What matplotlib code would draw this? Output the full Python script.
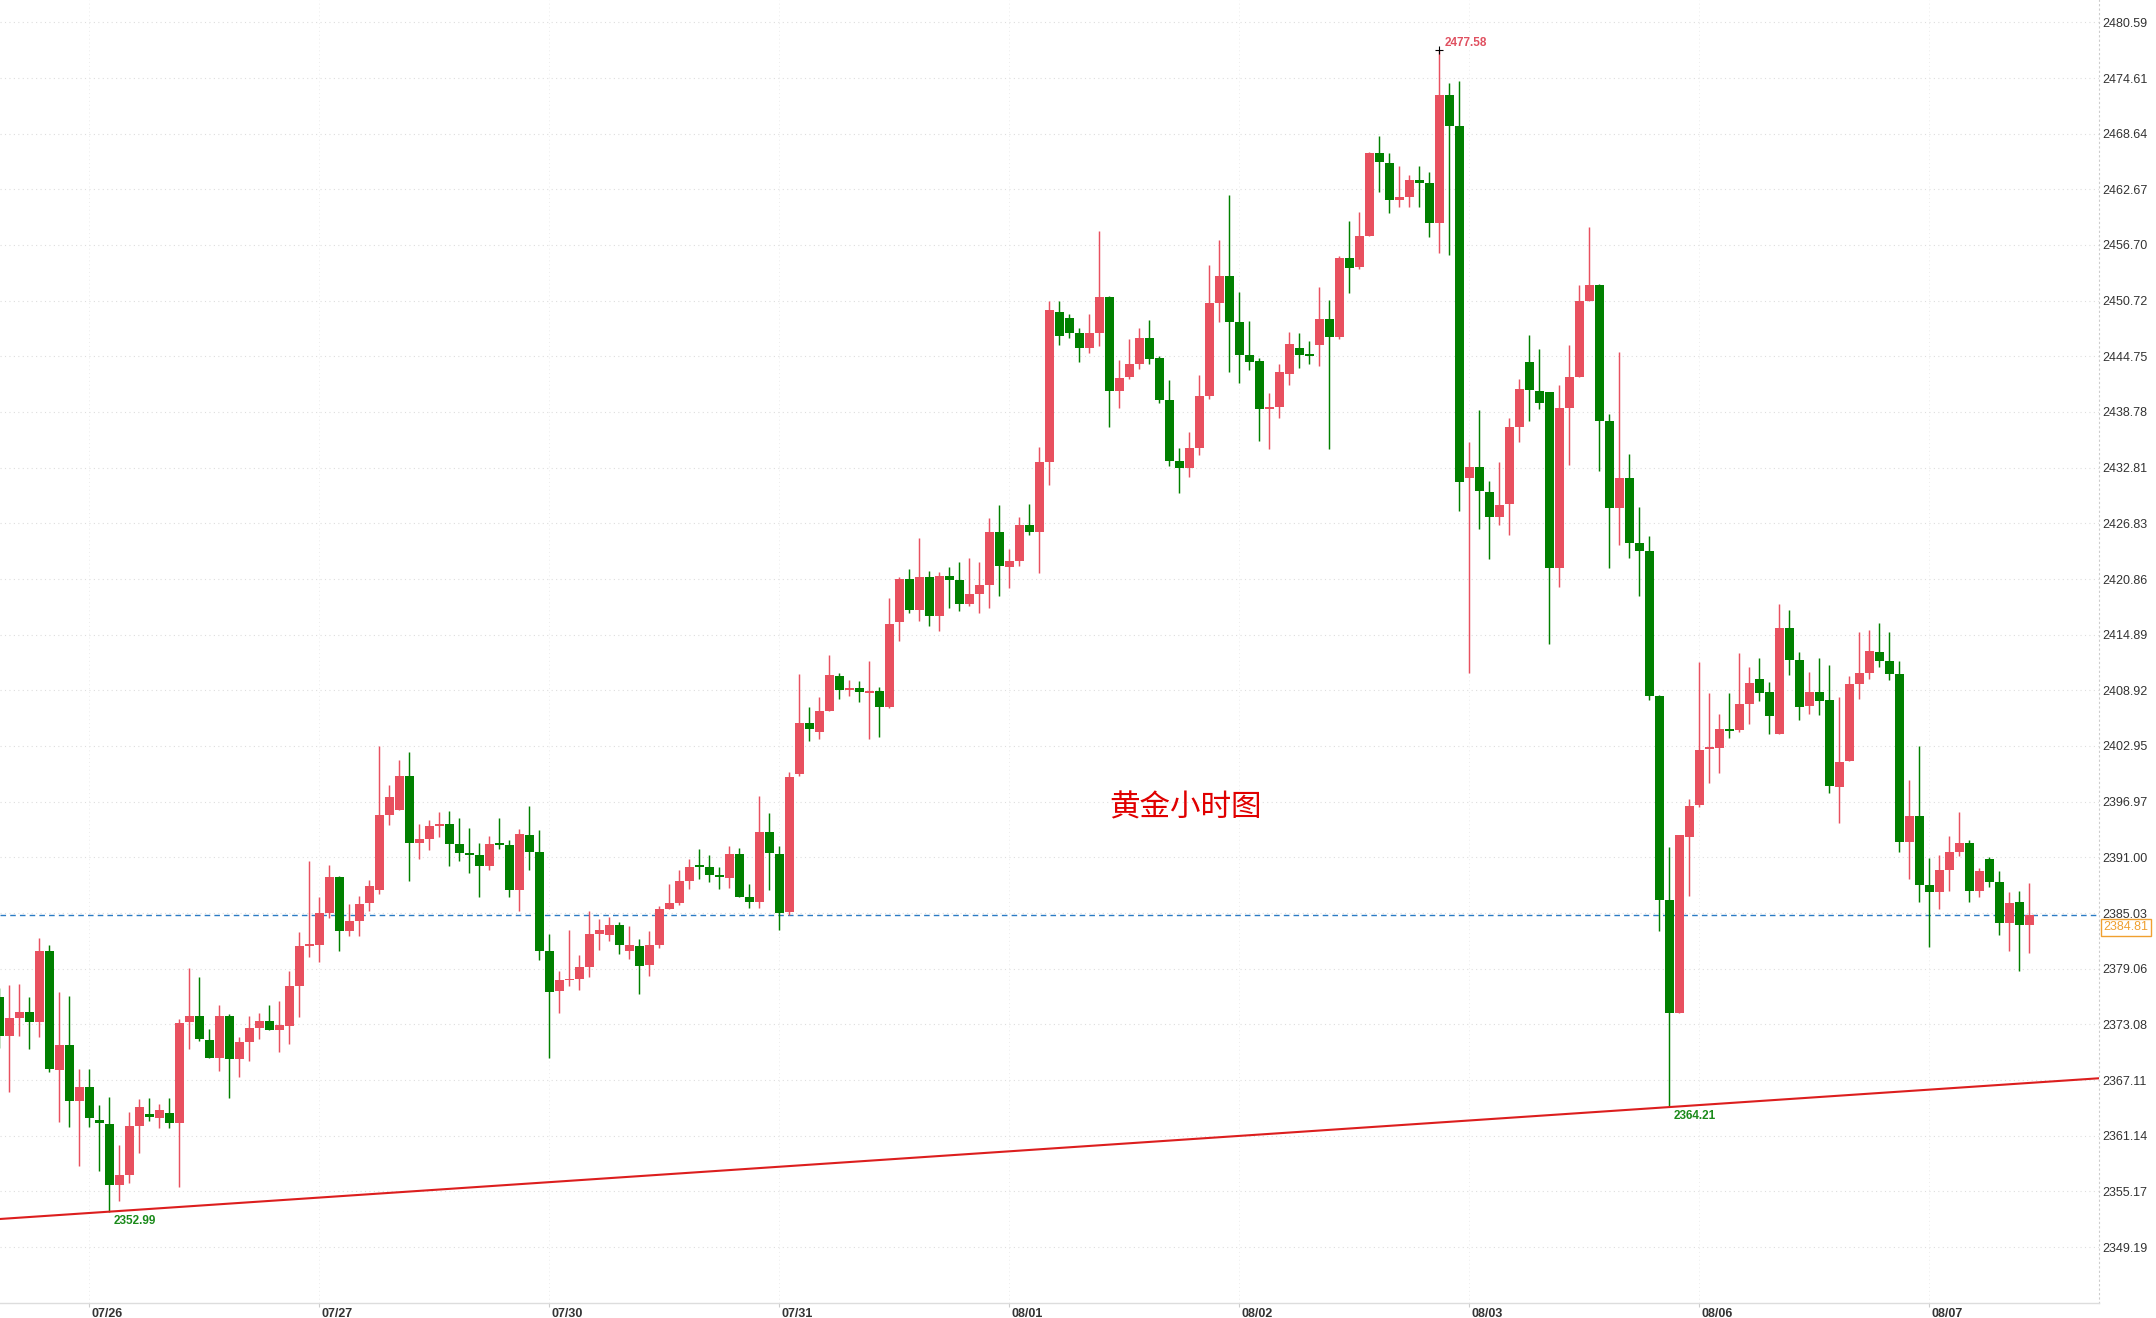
import numpy as np
import matplotlib
matplotlib.use("Agg")
import matplotlib.pyplot as plt
from matplotlib.transforms import ScaledTranslation, blended_transform_factory

plt.rcParams['font.family'] = ['Liberation Sans', 'Noto Sans CJK SC', 'DejaVu Sans']

# ---------------- data (hourly candles, index -1 .. 202) ----------------
opens = [2375.98, 2371.87, 2373.80, 2374.37, 2373.37, 2380.95, 2368.18, 2370.86, 2364.89, 2366.39,
         2362.82, 2362.39, 2355.88, 2356.92, 2362.17, 2363.46, 2363.07, 2363.53, 2362.46, 2373.37,
         2373.94, 2371.40, 2369.51, 2373.94, 2369.40, 2371.19, 2372.69, 2373.44, 2372.51, 2372.94,
         2377.20, 2381.52, 2381.63, 2385.03, 2388.93, 2383.13, 2384.17, 2386.10, 2387.53, 2395.54,
         2396.08, 2399.73, 2392.57, 2392.97, 2394.36, 2394.58, 2392.43, 2391.43, 2391.25, 2390.07,
         2392.54, 2392.32, 2387.53, 2393.40, 2391.57, 2380.95, 2376.69, 2377.84, 2377.98, 2379.23,
         2382.77, 2382.67, 2383.74, 2380.99, 2381.49, 2379.45, 2381.59, 2385.46, 2386.13, 2388.45,
         2390.10, 2389.92, 2389.10, 2388.81, 2391.35, 2386.77, 2386.24, 2393.75, 2391.35, 2385.17,
         2399.94, 2405.41, 2404.48, 2406.73, 2410.45, 2408.98, 2409.16, 2408.66, 2408.84, 2407.16,
         2416.28, 2420.86, 2417.53, 2421.07, 2416.92, 2421.18, 2420.75, 2418.21, 2419.25, 2420.21,
         2425.90, 2422.18, 2422.82, 2426.65, 2425.94, 2433.44, 2449.50, 2448.86, 2447.25, 2445.64,
         2447.25, 2451.11, 2441.03, 2442.53, 2443.92, 2446.71, 2444.57, 2440.06, 2433.51, 2432.76,
         2434.91, 2440.49, 2450.47, 2453.36, 2448.43, 2444.89, 2444.25, 2439.10, 2439.31, 2442.85,
         2445.64, 2444.89, 2445.96, 2448.75, 2446.82, 2455.30, 2454.33, 2457.66, 2466.56, 2465.45,
         2461.49, 2461.80, 2463.71, 2463.31, 2459.04, 2472.74, 2469.49, 2431.68, 2432.88, 2430.21,
         2427.54, 2428.88, 2437.20, 2444.12, 2441.07, 2440.95, 2422.02, 2439.26, 2442.50, 2450.66,
         2452.40, 2437.77, 2428.43, 2431.67, 2424.76, 2423.88, 2408.32, 2386.40, 2374.26, 2393.19,
         2396.61, 2402.58, 2402.76, 2404.73, 2404.66, 2407.45, 2410.13, 2408.74, 2404.23, 2415.60,
         2412.17, 2407.23, 2408.74, 2407.88, 2398.58, 2401.37, 2409.59, 2410.77, 2413.03, 2412.10,
         2410.67, 2392.68, 2395.43, 2388.03, 2387.31, 2389.64, 2391.57, 2392.53, 2387.42, 2390.85,
         2388.35, 2383.99, 2386.20, 2383.77]
highs = [2377.00, 2377.30, 2377.41, 2375.98, 2382.35, 2381.59, 2376.55, 2376.12, 2368.25, 2368.25,
         2364.43, 2365.25, 2360.14, 2363.64, 2365.04, 2365.14, 2364.53, 2365.14, 2373.62, 2379.09,
         2378.12, 2372.55, 2375.12, 2374.19, 2371.76, 2373.94, 2374.30, 2375.12, 2375.59, 2378.80,
         2382.95, 2390.61, 2386.78, 2390.18, 2389.00, 2385.99, 2386.85, 2388.57, 2402.95, 2398.76,
         2401.44, 2402.30, 2394.58, 2395.01, 2395.86, 2395.97, 2395.22, 2394.15, 2392.54, 2393.29,
         2395.22, 2392.86, 2394.04, 2396.51, 2393.93, 2382.77, 2378.80, 2383.20, 2380.52, 2385.24,
         2384.38, 2384.63, 2384.06, 2383.63, 2382.24, 2383.10, 2385.78, 2388.14, 2389.63, 2390.82,
         2391.89, 2391.24, 2389.92, 2392.21, 2391.96, 2388.13, 2397.57, 2395.79, 2392.21, 2400.11,
         2410.66, 2407.09, 2408.20, 2412.70, 2410.81, 2410.02, 2409.91, 2412.06, 2409.27, 2418.82,
         2421.11, 2421.93, 2425.26, 2421.72, 2421.61, 2422.15, 2422.68, 2423.11, 2422.68, 2427.40,
         2428.80, 2424.08, 2427.47, 2428.90, 2434.98, 2450.68, 2450.68, 2449.29, 2447.79, 2449.29,
         2458.19, 2451.22, 2444.35, 2446.61, 2447.79, 2448.64, 2444.78, 2442.21, 2434.91, 2436.63,
         2442.74, 2454.54, 2457.23, 2462.06, 2451.65, 2448.54, 2444.57, 2440.81, 2443.92, 2447.36,
         2447.25, 2446.39, 2452.18, 2450.79, 2455.51, 2459.27, 2460.24, 2466.69, 2468.34, 2466.60,
         2465.22, 2464.16, 2465.22, 2464.56, 2477.58, 2474.12, 2474.25, 2435.55, 2439.02, 2431.42,
         2433.46, 2438.09, 2442.36, 2447.05, 2445.55, 2440.95, 2441.69, 2445.99, 2452.40, 2458.63,
         2452.53, 2438.52, 2445.24, 2434.28, 2428.55, 2425.44, 2408.44, 2392.13, 2393.37, 2397.23,
         2411.93, 2408.59, 2406.38, 2408.59, 2412.88, 2411.38, 2412.35, 2409.77, 2418.18, 2417.53,
         2413.03, 2410.88, 2412.35, 2411.63, 2408.20, 2410.45, 2415.17, 2415.39, 2416.14, 2415.17,
         2412.06, 2399.29, 2402.94, 2390.96, 2391.25, 2393.28, 2395.86, 2392.86, 2389.85, 2391.03,
         2389.53, 2387.28, 2387.38, 2388.24]
lows = [2370.50, 2365.79, 2371.87, 2370.40, 2371.76, 2367.93, 2362.64, 2362.03, 2357.88, 2362.03,
        2357.38, 2352.99, 2354.16, 2356.02, 2359.24, 2362.75, 2361.92, 2361.99, 2355.67, 2370.40,
        2371.29, 2369.51, 2368.11, 2365.14, 2367.47, 2369.18, 2371.51, 2372.51, 2370.15, 2370.94,
        2373.90, 2380.34, 2379.81, 2384.46, 2380.99, 2382.60, 2382.60, 2385.28, 2387.07, 2394.47,
        2396.08, 2388.50, 2390.82, 2391.79, 2393.18, 2390.07, 2390.61, 2389.32, 2386.78, 2389.64,
        2391.90, 2386.78, 2385.28, 2389.64, 2379.98, 2369.51, 2374.33, 2377.20, 2376.77, 2378.16,
        2381.06, 2382.02, 2380.63, 2380.09, 2376.34, 2378.27, 2381.27, 2385.46, 2385.88, 2387.60,
        2388.67, 2388.38, 2387.60, 2387.70, 2386.77, 2385.59, 2385.59, 2387.49, 2383.20, 2384.81,
        2399.72, 2403.51, 2403.69, 2406.73, 2407.98, 2408.30, 2407.66, 2403.73, 2403.94, 2407.05,
        2414.24, 2417.25, 2416.39, 2415.85, 2415.31, 2417.78, 2417.46, 2418.00, 2417.25, 2417.78,
        2419.07, 2419.93, 2422.25, 2425.58, 2421.50, 2430.94, 2445.96, 2446.71, 2444.14, 2445.10,
        2445.85, 2437.16, 2439.20, 2442.31, 2443.39, 2443.92, 2439.74, 2432.98, 2430.08, 2431.80,
        2434.16, 2440.17, 2448.43, 2443.06, 2441.88, 2443.28, 2435.66, 2434.80, 2438.13, 2441.67,
        2443.49, 2443.92, 2443.71, 2434.80, 2446.60, 2451.54, 2454.15, 2457.66, 2462.38, 2460.11,
        2460.82, 2460.82, 2460.82, 2457.53, 2455.79, 2455.66, 2428.21, 2410.73, 2426.21, 2422.96,
        2426.65, 2425.54, 2435.55, 2437.77, 2439.14, 2413.92, 2420.02, 2433.04, 2442.50, 2450.66,
        2432.42, 2422.02, 2424.51, 2423.14, 2419.09, 2407.88, 2383.10, 2364.21, 2374.26, 2386.84,
        2396.36, 2398.94, 2400.08, 2403.76, 2404.48, 2405.30, 2407.81, 2404.23, 2404.23, 2410.56,
        2405.73, 2406.38, 2406.27, 2397.94, 2394.72, 2401.37, 2407.98, 2410.17, 2411.45, 2410.02,
        2391.60, 2388.71, 2386.24, 2381.41, 2385.49, 2387.42, 2391.17, 2386.24, 2386.78, 2387.85,
        2382.70, 2380.98, 2378.84, 2380.77]
closes = [2371.87, 2373.76, 2374.37, 2373.37, 2380.95, 2368.29, 2370.86, 2364.89, 2366.39, 2363.00,
          2362.46, 2355.88, 2356.92, 2362.17, 2364.18, 2363.10, 2363.89, 2362.46, 2373.19, 2373.94,
          2371.47, 2369.51, 2373.94, 2369.33, 2371.19, 2372.69, 2373.44, 2372.51, 2372.98, 2377.20,
          2381.49, 2381.70, 2385.03, 2388.93, 2383.13, 2384.17, 2385.99, 2387.92, 2395.54, 2397.47,
          2399.73, 2392.57, 2392.97, 2394.36, 2394.58, 2392.47, 2391.50, 2391.25, 2390.07, 2392.43,
          2392.32, 2387.53, 2393.50, 2391.57, 2380.95, 2376.55, 2377.84, 2377.98, 2379.23, 2382.77,
          2383.20, 2383.74, 2381.59, 2381.59, 2379.34, 2381.59, 2385.46, 2386.10, 2388.45, 2389.92,
          2389.99, 2389.10, 2388.92, 2391.35, 2386.77, 2386.24, 2393.75, 2391.49, 2385.06, 2399.65,
          2405.41, 2404.73, 2406.73, 2410.56, 2408.98, 2409.16, 2408.73, 2408.88, 2407.16, 2416.03,
          2420.86, 2417.53, 2421.07, 2416.92, 2421.18, 2420.79, 2418.21, 2419.25, 2420.21, 2425.90,
          2422.29, 2422.82, 2426.65, 2425.94, 2433.41, 2449.72, 2446.93, 2447.25, 2445.64, 2447.25,
          2451.11, 2441.03, 2442.42, 2443.92, 2446.71, 2444.46, 2440.06, 2433.51, 2432.76, 2434.91,
          2440.49, 2450.47, 2453.36, 2448.43, 2444.89, 2444.14, 2439.10, 2439.31, 2443.06, 2446.07,
          2444.89, 2444.82, 2448.75, 2446.82, 2455.30, 2454.26, 2457.66, 2466.56, 2465.58, 2461.49,
          2461.80, 2463.71, 2463.36, 2459.04, 2472.74, 2469.49, 2431.24, 2432.88, 2430.30, 2427.54,
          2428.75, 2437.20, 2441.20, 2441.19, 2439.70, 2422.02, 2439.26, 2442.50, 2450.66, 2452.40,
          2437.77, 2428.43, 2431.67, 2424.76, 2423.88, 2408.32, 2386.40, 2374.26, 2393.37, 2396.49,
          2402.53, 2402.87, 2404.77, 2404.59, 2407.45, 2409.67, 2408.66, 2406.20, 2415.60, 2412.17,
          2407.16, 2408.74, 2407.81, 2398.65, 2401.23, 2409.59, 2410.77, 2413.13, 2412.10, 2410.67,
          2392.68, 2395.43, 2388.03, 2387.31, 2389.64, 2391.57, 2392.53, 2387.42, 2389.53, 2388.39,
          2383.99, 2386.10, 2383.77, 2384.81]

day_labels = ["07/26", "07/27", "07/30", "07/31", "08/01", "08/02", "08/03", "08/06", "08/07"]
day_start_idx = [8, 31, 54, 77, 100, 123, 146, 169, 192]

ytick_labels = ["2349.19", "2355.17", "2361.14", "2367.11", "2373.08", "2379.06", "2385.03",
                "2391.00", "2396.97", "2402.95", "2408.92", "2414.89", "2420.86", "2426.83",
                "2432.81", "2438.78", "2444.75", "2450.72", "2456.70", "2462.67", "2468.64",
                "2474.61", "2480.59"]

trend_anchor_idx = [10, 166]   # candle indices whose lows define the support line
title_text = "黄金小时图"

# ---------------- styling ----------------
UP = "#e8505f"
DOWN = "#008000"

W, H = 2156, 1318
fig = plt.figure(figsize=(W / 100, H / 100), dpi=100)
ax = fig.add_axes([0, 15 / H, 2099 / W, 1303 / H])

o = np.array(opens); h = np.array(highs); l = np.array(lows); c = np.array(closes)
x = np.arange(-1, -1 + len(o))
up = c >= o
cols = np.where(up, UP, DOWN)

ax.vlines(x, l, h, colors=cols, linewidth=1.05, zorder=2)
bottoms = np.minimum(o, c)
heights = np.maximum(np.abs(c - o), 0.16)
ax.bar(x, heights, bottom=bottoms, width=0.86, color=cols, linewidth=0, zorder=3)

ax.set_xlim(-0.933, 208.97)
ax.set_ylim(2343.19, 2482.98)

# support line through two lows
i1, i2 = trend_anchor_idx
ax.axline((i1, lows[i1 + 1]), (i2, lows[i2 + 1]), color="#dc1e1e", linewidth=1.5, zorder=4)

# current price line
last = closes[-1]
ax.axhline(last, color="#2b7bc4", linewidth=1.0, linestyle=(0, (4, 3)), zorder=1.5)

# axes / grid
yvals = [float(s) for s in ytick_labels]
ax.set_yticks(yvals)
ax.set_yticklabels(ytick_labels)
ax.yaxis.tick_right()
ax.tick_params(axis="y", length=0, pad=2.5, labelsize=9, labelcolor="#333333")
ax.set_xticks(day_start_idx)
ax.set_xticklabels(day_labels, fontweight="bold")
ax.tick_params(axis="x", length=3, color="#cccccc", pad=0.5, labelsize=9, labelcolor="#333333")
for lab in ax.get_xticklabels():
    lab.set_horizontalalignment("left")
    lab.set_transform(lab.get_transform() + ScaledTranslation(2 / 100, 0, fig.dpi_scale_trans))

ax.yaxis.grid(True, color="#dedede", linestyle=(0, (1, 3)), linewidth=0.8, zorder=0)
ax.xaxis.grid(True, color="#ececec", linestyle=(0, (1, 3)), linewidth=0.7, zorder=0)
ax.set_axisbelow(True)
for s in ["top", "left"]:
    ax.spines[s].set_visible(False)
ax.spines["bottom"].set_color("#dddddd")
ax.spines["bottom"].set_linewidth(1.0)
ax.spines["right"].set_color("#cccccc")
ax.spines["right"].set_linestyle((0, (1, 3)))
ax.spines["right"].set_linewidth(0.8)

# current price tag (sits just below the price line, as in the source chart)
trans = blended_transform_factory(ax.transAxes, ax.transData)
ax.annotate(f"{last:.2f}", xy=(1.0, last), xycoords=trans, xytext=(4, -6),
            textcoords="offset pixels", ha="left", va="top",
            fontsize=9, color="#f0a030", annotation_clip=False, zorder=10,
            bbox=dict(boxstyle="square,pad=0.2", fc="white", ec="#f0a030", lw=1.0))

# extreme annotations
k_hi = int(np.argmax(h))
ax.plot(x[k_hi], h[k_hi], marker="+", color="black", markersize=6, mew=0.8, zorder=6)
ax.annotate(f"{h[k_hi]:.2f}", xy=(x[k_hi], h[k_hi]), xytext=(5, 7), textcoords="offset pixels",
            ha="left", va="center", fontsize=8.5, fontweight="bold", color="#e05060", zorder=6)
for idx in trend_anchor_idx:
    ax.annotate(f"{lows[idx + 1]:.2f}", xy=(idx, lows[idx + 1]), xytext=(4, -9),
                textcoords="offset pixels", ha="left", va="center", fontsize=8.5,
                fontweight="bold", color="#1a8a1a", zorder=6)

# chart title in the middle
ax.text(0.565, 0.380, title_text, transform=ax.transAxes, ha="center", va="center",
        fontsize=22, color="#e00000", family=["Noto Sans CJK SC", "DejaVu Sans"], zorder=5)

fig.savefig("out.png", dpi=100)
